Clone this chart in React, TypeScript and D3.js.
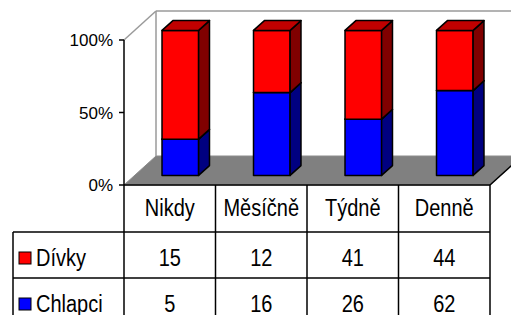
// @ts-nocheck
import { useEffect, useRef } from 'react';
import * as d3 from 'd3';

const categories = ['Nikdy', 'Měsíčně', 'Týdně', 'Denně'];
const divky = [15, 12, 41, 44];
const chlapci = [5, 16, 26, 62];
const yTicks = [0, 0.5, 1];
const seriesNames = ['Dívky', 'Chlapci'];

const FONT = '"Liberation Sans", Arial, sans-serif';

export default function App() {
  const svgRef = useRef<SVGSVGElement>(null);
  const width = 511;
  const height = 315;

  useEffect(() => {
    if (!svgRef.current) return;
    const svg = d3.select(svgRef.current);
    svg.selectAll('*').remove();

    // plot frame (front plane) and depth vector
    const left = 124;
    const right = 490;
    const depth = { x: 32, y: -29 };
    const x = d3.scaleBand().domain(categories).range([left, right]);
    const y = d3.scaleLinear().domain([0, 1]).range([185, 40]);

    // walls
    const wall = svg.append('g');
    wall
      .append('polygon')
      .attr('points', [
        [left, y(0)],
        [left + depth.x, y(0) + depth.y],
        [right + depth.x, y(0) + depth.y],
        [right, y(0)],
      ].map((p) => p.join(',')).join(' '))
      .attr('fill', '#808080')
      .attr('stroke', '#8c8c8c')
      .attr('stroke-width', 1);
    wall
      .append('line')
      .attr('x1', right).attr('y1', y(0))
      .attr('x2', right + depth.x).attr('y2', y(0) + depth.y)
      .attr('stroke', '#000').attr('stroke-width', 1.5);

    const wallLines = [
      [left, y(1), left + depth.x, y(1) + depth.y],
      [left + depth.x, y(1) + depth.y, right + depth.x, y(1) + depth.y],
      [left + depth.x, y(1) + depth.y, left + depth.x, y(0) + depth.y],
    ];
    wallLines.forEach((l) => {
      wall
        .append('line')
        .attr('x1', l[0]).attr('y1', l[1])
        .attr('x2', l[2]).attr('y2', l[3])
        .attr('stroke', '#9a9a9a')
        .attr('stroke-width', 1.5);
    });

    // bars (100% stacked, Chlapci at the bottom)
    const t0 = 0.33;
    const t1 = 0.67;
    const ox = depth.x * t0;
    const oy = depth.y * t0;
    const dx = depth.x * (t1 - t0);
    const dy = depth.y * (t1 - t0);
    const barW = x.bandwidth() * 0.4;

    const colors = [
      { front: '#0000ff', side: '#000080', top: '#0000c0' },
      { front: '#ff0000', side: '#800000', top: '#c00000' },
    ];

    const bars = svg.append('g');
    categories.forEach((cat, i) => {
      const total = divky[i] + chlapci[i];
      const segs = [
        [0, chlapci[i] / total],
        [chlapci[i] / total, 1],
      ];
      const x0 = x(cat) + (x.bandwidth() - barW) / 2 + ox;
      const x1 = x0 + barW;
      segs.forEach((s, j) => {
        const yb = y(s[0]) + oy;
        const yt = y(s[1]) + oy;
        const c = colors[j];
        const pts = (arr) => arr.map((p) => p.join(',')).join(' ');
        bars
          .append('polygon')
          .attr('points', pts([[x0, yb], [x1, yb], [x1, yt], [x0, yt]]))
          .attr('fill', c.front);
        bars
          .append('polygon')
          .attr('points', pts([[x1, yb], [x1 + dx, yb + dy], [x1 + dx, yt + dy], [x1, yt]]))
          .attr('fill', c.side);
        bars
          .append('polygon')
          .attr('points', pts([[x0, yt], [x1, yt], [x1 + dx, yt + dy], [x0 + dx, yt + dy]]))
          .attr('fill', c.top);
        bars.selectAll('polygon:nth-last-child(-n+3)')
          .attr('stroke', '#000')
          .attr('stroke-width', 1.5)
          .attr('stroke-linejoin', 'round');
      });
    });

    // y axis
    const axis = svg.append('g');
    axis
      .append('line')
      .attr('x1', left).attr('y1', y(1))
      .attr('x2', left).attr('y2', height + 10)
      .attr('stroke', '#000').attr('stroke-width', 1.5);
    yTicks.forEach((t) => {
      axis
        .append('line')
        .attr('x1', left - 5).attr('y1', y(t))
        .attr('x2', left).attr('y2', y(t))
        .attr('stroke', '#000').attr('stroke-width', 1.5);
      axis
        .append('text')
        .attr('x', left - 11)
        .attr('y', y(t) + 6)
        .attr('text-anchor', 'end')
        .attr('font-family', FONT)
        .attr('font-size', '17px')
        .attr('fill', '#000')
        .text(`${d3.format('.0%')(t)}`);
    });

    // data table
    const rowTop = [y(0), 232, 278];
    const rowH = 46;
    const legendLeft = 13;
    const table = svg.append('g');
    const hline = (yy, xa, xb) =>
      table.append('line')
        .attr('x1', xa).attr('y1', yy).attr('x2', xb).attr('y2', yy)
        .attr('stroke', '#000').attr('stroke-width', 1.5);
    const vline = (xx, ya, yb) =>
      table.append('line')
        .attr('x1', xx).attr('y1', ya).attr('x2', xx).attr('y2', yb)
        .attr('stroke', '#000').attr('stroke-width', 1.5);

    hline(rowTop[0], left, right);
    hline(rowTop[1], legendLeft, right);
    hline(rowTop[2], legendLeft, right);
    hline(rowTop[2] + rowH, legendLeft, right);
    vline(legendLeft, rowTop[1], height + 10);
    categories.forEach((cat) => vline(x(cat) + x.bandwidth(), rowTop[0], height + 10));

    const cellText = (tx, ty, str, anchor = 'middle') =>
      table
        .append('text')
        .attr('transform', `translate(${tx},${ty}) scale(1,1.15)`)
        .attr('text-anchor', anchor)
        .attr('font-family', FONT)
        .attr('font-size', '20px')
        .attr('fill', '#000')
        .text(str);

    categories.forEach((cat, i) => {
      const cx = x(cat) + x.bandwidth() / 2;
      cellText(cx, rowTop[0] + 31, cat);
      cellText(cx, rowTop[1] + 34, String(divky[i]));
      cellText(cx, rowTop[2] + 34, String(chlapci[i]));
    });

    const legendColors = ['#ff0000', '#0000ff'];
    seriesNames.forEach((name, j) => {
      const top = rowTop[j + 1];
      table
        .append('rect')
        .attr('x', 19)
        .attr('y', top + 20)
        .attr('width', 12)
        .attr('height', 12)
        .attr('fill', legendColors[j])
        .attr('stroke', '#000')
        .attr('stroke-width', 1);
      cellText(36, top + 34, name, 'start');
    });
  }, []);

  return (
    <div style={{ position: 'absolute', left: 0, top: 0, background: '#fff' }}>
      <svg ref={svgRef} width={width} height={height} style={{ display: 'block' }} />
    </div>
  );
}
